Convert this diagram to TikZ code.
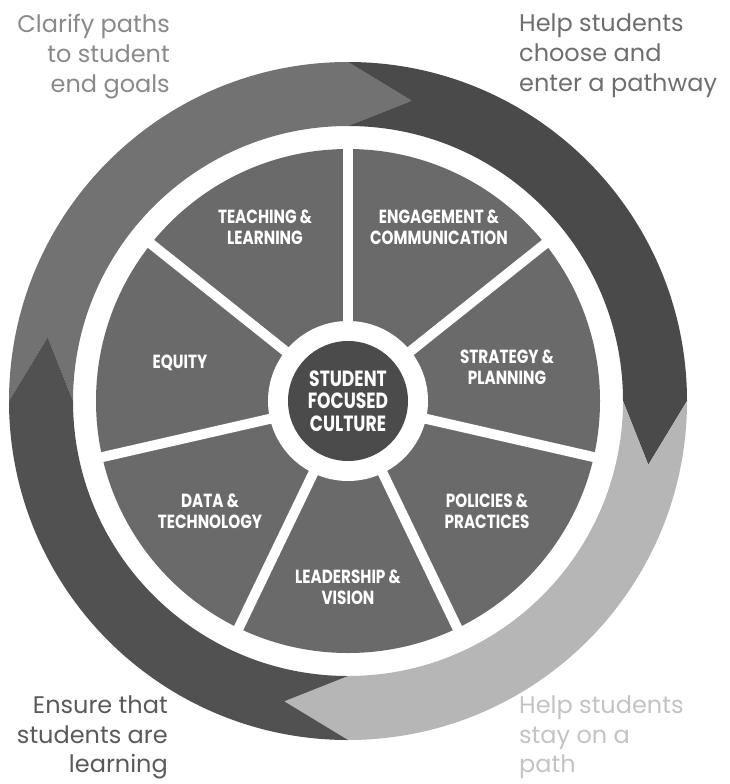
\documentclass[tikz,border=0pt]{standalone}
\usepackage{fontspec}
\setmainfont{Poppins}
\newfontfamily\segfont[FakeStretch=0.8]{Poppins}
\newfontfamily\corefont[FakeStretch=0.78]{Poppins}
\usetikzlibrary{calc}
\definecolor{arrA}{HTML}{727272}
\definecolor{arrB}{HTML}{4A4A4A}
\definecolor{arrC}{HTML}{B6B6B6}
\definecolor{arrD}{HTML}{515151}
\definecolor{segcol}{HTML}{6A6A6A}
\definecolor{corecol}{HTML}{4B4B4B}
\definecolor{txtTL}{HTML}{8A8A8A}
\definecolor{txtTR}{HTML}{6E6E6E}
\definecolor{txtBL}{HTML}{5A5A5A}
\definecolor{txtBR}{HTML}{C4C4C4}
\newcommand\ringarrow[2]{%
  \fill[#2] ($(c)+(#1:339pt)$) arc[start angle=#1, end angle={#1-90}, radius=339pt]
    -- ($(c)+({#1-102}:307pt)$) -- ($(c)+({#1-90}:275pt)$)
    arc[start angle={#1-90}, end angle=#1, radius=275pt]
    -- ($(c)+({#1-12}:307pt)$) -- cycle;}
\begin{document}
\begin{tikzpicture}[x=1pt,y=-1pt,
  outer/.style={font=\fontsize{24}{30}\selectfont, inner sep=0pt},
  outerlow/.style={font=\fontsize{24}{29.5}\selectfont, inner sep=0pt},
  seg/.style={text=white, font=\segfont\bfseries\fontsize{19}{21}\selectfont, align=center, inner sep=0pt},
  core/.style={text=white, font=\corefont\bfseries\fontsize{22}{22.5}\selectfont, align=center, inner sep=0pt}]
\useasboundingbox[fill=white] (0,0) rectangle (730,784);
\coordinate (c) at (348,401);
% outer ring of four arrows
\ringarrow{180}{arrA}
\ringarrow{90}{arrB}
\ringarrow{0}{arrC}
\ringarrow{270}{arrD}
% wheel
\fill[segcol] (c) circle[radius=252pt];
\fill[white] (c) circle[radius=80pt];
\foreach \a in {90,38.571,-12.857,-64.286,-115.714,-167.143,141.429}
  \draw[white, line width=10pt] ($(c)+(\a:75pt)$) -- ($(c)+(\a:258pt)$);
\fill[corecol] (c) circle[radius=60pt];
% labels
\node[seg] (teach) at (265,227) {TEACHING \&\\LEARNING};
\node[seg] (engage) at (439,227) {ENGAGEMENT \&\\COMMUNICATION};
\node[seg] (equity) at (180,363) {EQUITY};
\node[seg] (strat) at (507,367) {STRATEGY \&\\PLANNING};
\node[seg] (data) at (210,511) {DATA \&\\TECHNOLOGY};
\node[seg] (policy) at (487,511) {POLICIES \&\\PRACTICES};
\node[seg] (lead) at (348,587) {LEADERSHIP \&\\VISION};
\node[core] (culture) at (348,401) {STUDENT\\FOCUSED\\CULTURE};
% outer texts
\node[outer, text=txtTL, align=right, anchor=north east] (tl) at (170,14) {Clarify paths\\to student\\end goals};
\node[outer, text=txtTR, align=left, anchor=north west] (tr) at (519,14) {Help students\\choose and\\enter a pathway};
\node[outerlow, text=txtBL, align=right, anchor=north east] (bl) at (168,696) {Ensure that\\students are\\learning};
\node[outerlow, text=txtBR, align=left, anchor=north west] (br) at (519,696) {Help students\\stay on a\\path};
\end{tikzpicture}
\end{document}
